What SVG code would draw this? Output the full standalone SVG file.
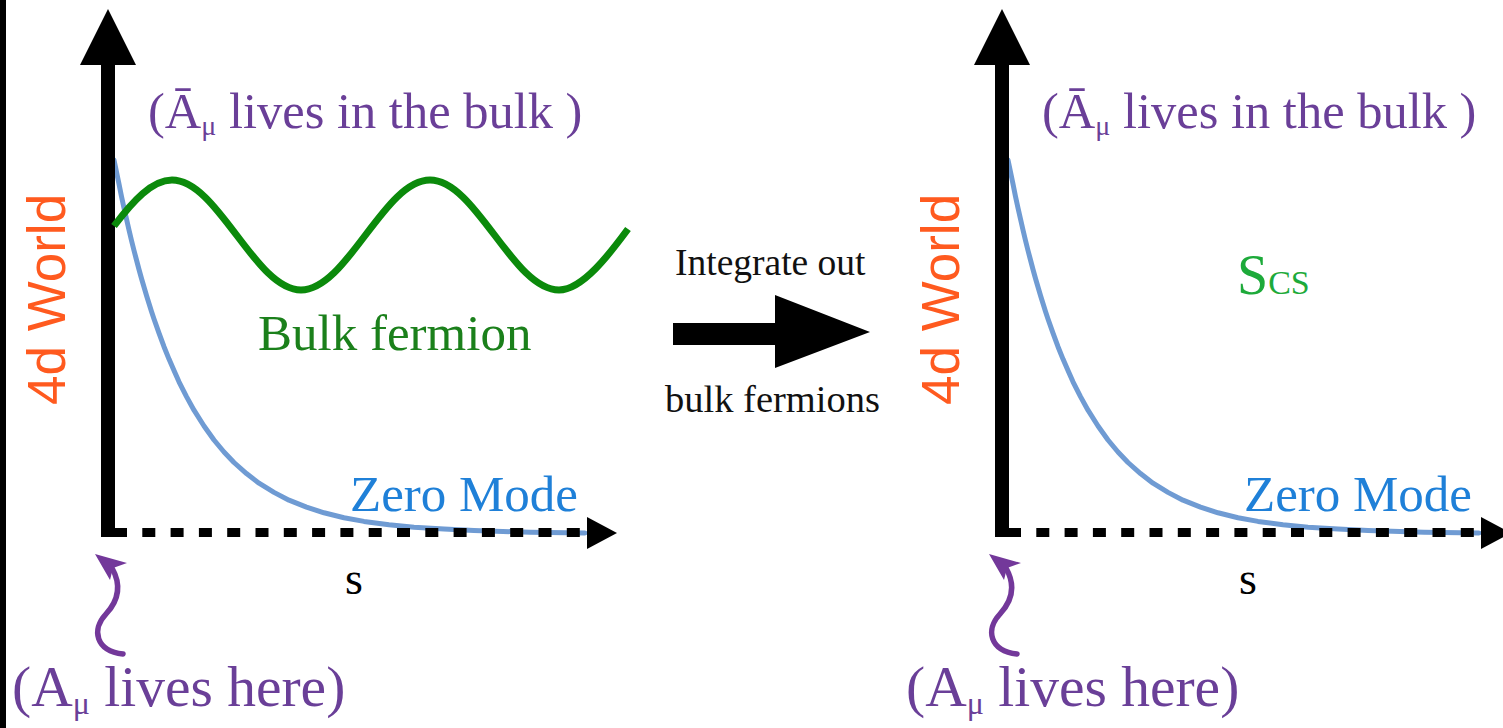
<svg xmlns="http://www.w3.org/2000/svg" width="1503" height="728" viewBox="0 0 1503 728">
<style>
.serif{font-family:"Liberation Serif","DejaVu Serif",serif}
.purple{fill:#6a3f98}
.world{font-family:"Liberation Sans","DejaVu Sans",sans-serif;font-size:53px;fill:#ff5a1f}
.zero{fill:#1f80d8;font-size:51px}
.axis{fill:#000}
.dash{stroke:#000;stroke-width:9;stroke-dasharray:13 15.3;fill:none}
.mode{stroke:#6f9bd3;stroke-width:5;fill:none;stroke-linejoin:round;stroke-linecap:round}
.curl{stroke:#73389a;stroke-width:5.5;fill:none;stroke-linecap:round}
</style>
<defs>
<g id="panel">
  <polyline class="mode" points="114,160 116.5,172 119,184 121.5,196.5 124,208 126.5,219 129,230 131.5,240.5 134,250.5 136.5,260 139,269.5 141.5,278.5 144,287 146.5,295.5 149,303.6 151.5,311.4 154,319 159,333.2 164,346.7 169,359.1 174,370.6 179,381.8 186.5,396.6 194,410.2 204,426 214,440 224,452 234,462.5 246.5,473.6 259,483.2 274,492.4 289,500.2 306.5,507.1 324,512.8 344,517.7 364,521.4 389,524.7 414,527.2 444,529.1 474,530.5 530,532.3 585,533"/>
  <path class="dash" d="M114,532.5 H588"/>
  <polygon class="axis" points="587,517 617,533 587,549"/>
  <rect class="axis" x="101" y="62" width="14" height="475"/>
  <polygon class="axis" points="108,9 80,65 136,65"/>
  <text class="world" transform="translate(65,405) rotate(-90)">4d World</text>
  <text class="serif purple" x="148" y="128" font-size="50.5">(Ā<tspan font-size="28" dy="7">μ</tspan><tspan dy="-7"> lives in the bulk )</tspan></text>
  <text class="serif zero" x="350" y="511">Zero Mode</text>
  <text class="serif" x="345" y="594" font-size="46" fill="#000">s</text>
  <path class="curl" d="M112,568 C121,584 119,600 106,614 C91,630 96,651 123,654"/>
  <polygon fill="#73389a" points="95,554 127,563 113,568 110,580"/>
  <text class="serif purple" x="12" y="706" font-size="57.5">(A<tspan font-size="32" dy="8">μ</tspan><tspan dy="-8"> lives here)</tspan></text>
</g>
</defs>
<rect width="1503" height="728" fill="#fff"/>
<rect x="0" y="0" width="6" height="728" fill="#000"/>
<g id="left-panel">
  <use href="#panel"/>
  <g id="bulk-fermion">
    <path d="M114,226 C133,201 152,180 172,180 C218,180 255,290 301,290 C347,290 384,180 430,180 C476,180 513,290 559,290 C583,290 611,252 628,229" stroke="#0b8a0b" stroke-width="7" fill="none"/>
    <text class="serif" x="258" y="350" font-size="51" fill="#1b801b">Bulk fermion</text>
  </g>
</g>
<g id="transition">
  <text class="serif" x="675" y="275" font-size="37.5" fill="#111">Integrate out</text>
  <polygon fill="#000" points="673,323 775,323 775,295 870,332 775,368 775,345 673,345"/>
  <text class="serif" x="665" y="412" font-size="38.5" fill="#111">bulk fermions</text>
</g>
<g id="right-panel" transform="translate(894,0)">
  <use href="#panel"/>
  <text id="scs" class="serif" x="343" y="294" fill="#1daa3a"><tspan font-size="56">S</tspan><tspan font-size="34">CS</tspan></text>
</g>
</svg>
